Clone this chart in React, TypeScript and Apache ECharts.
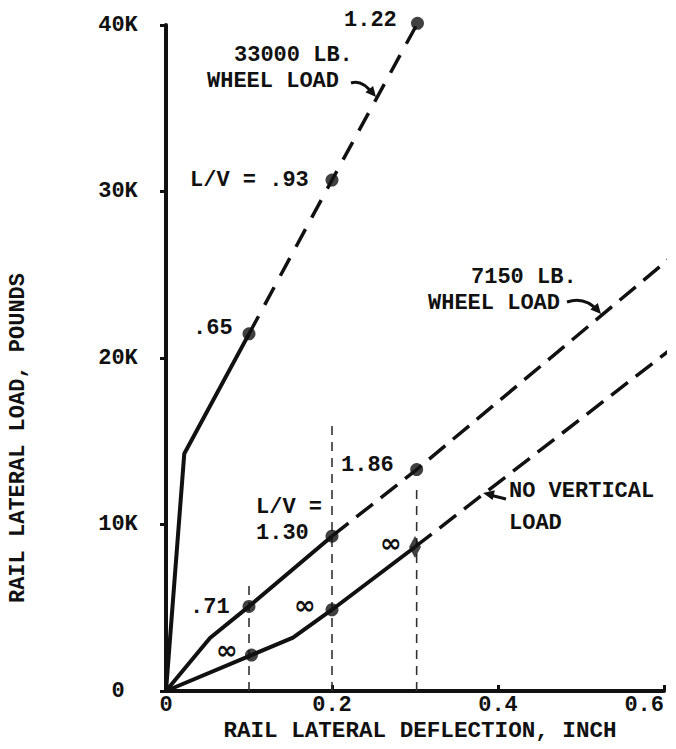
import React, { useEffect, useRef } from "react";
import * as echarts from "echarts";

// ---- data (x: inch, y: pounds) ----
const xTicks = [0, 0.2, 0.4, 0.6];
const xTickLabels = ["0", "0.2", "0.4", "0.6"];
const yTickLabels = ["0", "10K", "20K", "30K", "40K"];

// 33000 LB. wheel load
const heavySolid: [number, number][] = [[0, 0], [0.022, 14250], [0.1, 21450]];
const heavyDashed: [number, number][] = [[0.1, 21450], [0.2, 30690], [0.303, 40100]];
const heavyPoints: [number, number][] = [[0.1, 21450], [0.2, 30690], [0.303, 40100]];

// 7150 LB. wheel load
const lightSolid: [number, number][] = [[0, 0], [0.053, 3180], [0.1, 5080], [0.2, 9300]];
const lightDashed: [number, number][] = [[0.2, 9300], [0.302, 13300], [0.605, 25900]];
const lightPoints: [number, number][] = [[0.1, 5080], [0.2, 9300], [0.302, 13300]];

// No vertical load
const noVertSolid: [number, number][] = [[0, 0], [0.103, 2160], [0.153, 3200], [0.2, 4880], [0.3, 8650]];
const noVertDashed: [number, number][] = [[0.3, 8650], [0.605, 20400]];
const noVertPoints: [number, number][] = [[0.103, 2160], [0.2, 4880]];
const noVertDiamond: [number, number][] = [[0.3, 8650]];

// vertical reference (dashed) lines
const refLineA: [number, number][] = [[0.1, 0], [0.1, 6500]];
const refLineB: [number, number][] = [[0.2, 0], [0.2, 16000]];
const refLineC: [number, number][] = [[0.302, 0], [0.302, 12500]];

const FONT = '"Liberation Mono", "DejaVu Sans Mono", monospace';
const INK = "#111";

function txt(text: string, x: number, y: number, extra: any = {}) {
  return {
    type: "text",
    x,
    y,
    style: {
      text,
      fill: INK,
      font: `bold 22px ${FONT}`,
      textAlign: "left",
      textVerticalAlign: "middle",
      ...extra,
    },
    silent: true,
  };
}

export default function App() {
  const ref = useRef<HTMLDivElement>(null);

  useEffect(() => {
    if (!ref.current) return;
    const chart = echarts.init(ref.current, null, { renderer: "svg" });

    const solid = (data: [number, number][]) => ({
      type: "line",
      data,
      symbol: "none",
      clip: false,
      lineStyle: { color: INK, width: 4, type: "solid" },
      z: 3,
    });
    const dashed = (data: [number, number][], dash: number[]) => ({
      type: "line",
      data,
      symbol: "none",
      clip: false,
      lineStyle: { color: INK, width: 3.5, type: dash },
      z: 3,
    });
    const ref2 = (data: [number, number][]) => ({
      type: "line",
      data,
      symbol: "none",
      clip: false,
      lineStyle: { color: "#333", width: 1.6, type: [9, 7] },
      z: 2,
    });
    const pts = (data: [number, number][]) => ({
      type: "scatter",
      data,
      symbol: "circle",
      symbolSize: 13,
      clip: false,
      itemStyle: { color: INK },
      z: 4,
    });

    const xMax = xTicks[xTicks.length - 1];

    chart.setOption({
      animation: false,
      backgroundColor: "#fff",
      grid: {
        left: 166,
        right: 12,
        top: 25,
        bottom: 58,
        containLabel: false,
        outerBoundsMode: "none",
      },
      xAxis: {
        type: "value",
        min: xTicks[0],
        max: xMax,
        interval: 0.2,
        axisLine: { show: true, lineStyle: { color: INK, width: 4 } },
        axisTick: { show: true, inside: true, length: 6, lineStyle: { color: INK, width: 3 } },
        splitLine: { show: false },
        axisLabel: {
          color: INK,
          fontFamily: FONT,
          fontWeight: "bold",
          fontSize: 22,
          margin: 3,
          showMaxLabel: true,
          alignMaxLabel: "right",
          formatter: (v: number) => {
            const i = xTicks.findIndex((t) => Math.abs(t - v) < 1e-9);
            return i >= 0 ? xTickLabels[i] : "";
          },
        },
      },
      yAxis: {
        type: "value",
        min: 0,
        max: 40000,
        interval: 10000,
        axisLine: { show: true, lineStyle: { color: INK, width: 4 } },
        axisTick: { show: true, inside: false, length: 6, lineStyle: { color: INK, width: 3 } },
        splitLine: { show: false },
        axisLabel: {
          color: INK,
          fontFamily: FONT,
          fontWeight: "bold",
          fontSize: 22,
          align: "center",
          margin: 48,
          formatter: (v: number) => yTickLabels[Math.round(v / 10000)] ?? "",
        },
      },
      series: [
        ref2(refLineA),
        ref2(refLineB),
        ref2(refLineC),
        solid(heavySolid),
        dashed(heavyDashed, [20, 13]),
        pts(heavyPoints),
        solid(lightSolid),
        dashed(lightDashed, [21, 10]),
        pts(lightPoints),
        solid(noVertSolid),
        dashed(noVertDashed, [21, 10]),
        pts(noVertPoints),
        {
          type: "scatter",
          data: noVertDiamond,
          symbol: "diamond",
          symbolSize: [12, 22],
          clip: false,
          itemStyle: { color: INK },
          z: 4,
        },
      ],
      graphic: [
        // axis titles
        {
          type: "text",
          x: 18,
          y: 438,
          rotation: Math.PI / 2,
          style: {
            text: "RAIL LATERAL LOAD, POUNDS",
            fill: INK,
            font: `bold 22px ${FONT}`,
            textAlign: "center",
            textVerticalAlign: "middle",
          },
          silent: true,
        },
        txt("RAIL LATERAL DEFLECTION, INCH", 420, 731, {
          textAlign: "center",
          font: `bold 22.6px ${FONT}`,
        }),
        // 33000 lb annotations
        txt("1.22", 344, 20),
        txt("33000 LB.", 234, 55),
        txt("WHEEL LOAD", 207, 81),
        txt("L/V = .93", 190, 180),
        txt(".65", 193, 328),
        // 7150 lb annotations
        txt("7150 LB.", 471, 277),
        txt("WHEEL LOAD", 428, 303),
        txt("1.86", 341, 465),
        txt("L/V =", 256, 507),
        txt("1.30", 256, 533),
        txt(".71", 190, 607),
        // infinity marks
        txt("\u221E", 216, 650, { font: `bold 26px "DejaVu Sans", sans-serif` }),
        txt("\u221E", 294, 605, { font: `bold 26px "DejaVu Sans", sans-serif` }),
        txt("\u221E", 380, 543, { font: `bold 26px "DejaVu Sans", sans-serif` }),
        // no vertical load
        txt("NO VERTICAL", 509, 491),
        txt("LOAD", 509, 523),
        // arrows
        {
          type: "bezierCurve",
          shape: { x1: 351, y1: 83, x2: 373, y2: 94, cpx1: 362, cpy1: 79 },
          style: { stroke: INK, lineWidth: 3, fill: "none" },
          silent: true,
        },
        {
          type: "polygon",
          shape: { points: [[376, 97], [365.4, 92.3], [373.1, 85.9]] },
          style: { fill: INK },
          silent: true,
        },
        {
          type: "bezierCurve",
          shape: { x1: 567, y1: 302, x2: 598, y2: 311, cpx1: 585, cpy1: 296 },
          style: { stroke: INK, lineWidth: 3, fill: "none" },
          silent: true,
        },
        {
          type: "polygon",
          shape: { points: [[601, 314], [590.3, 309.6], [597.8, 303]] },
          style: { fill: INK },
          silent: true,
        },
        {
          type: "line",
          shape: { x1: 506, y1: 499, x2: 490, y2: 495 },
          style: { stroke: INK, lineWidth: 3 },
          silent: true,
        },
        {
          type: "polygon",
          shape: { points: [[483, 493], [494.85, 490.3], [492.65, 500.1]] },
          style: { fill: INK },
          silent: true,
        },
      ],
    });

    return () => chart.dispose();
  }, []);

  return (
    <div
      ref={ref}
      style={{ position: "fixed", left: 0, top: 0, width: 676, height: 749, background: "#fff" }}
    />
  );
}
